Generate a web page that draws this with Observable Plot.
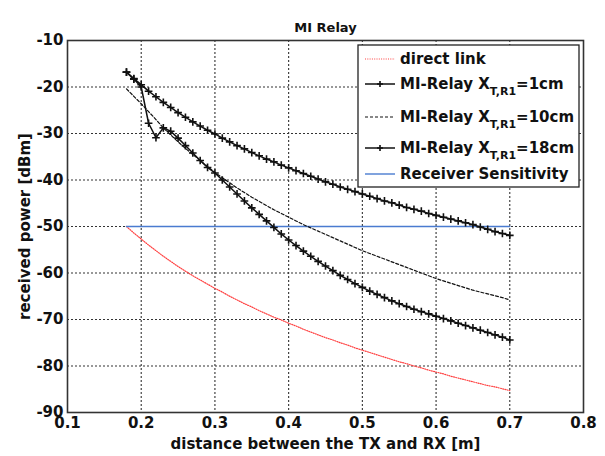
<!DOCTYPE html>
<html><head><meta charset="utf-8">
<script src="https://cdn.jsdelivr.net/npm/d3@7"></script>
<script src="https://cdn.jsdelivr.net/npm/@observablehq/plot@0.6"></script>
<style>
body{margin:0;background:#fff;}
svg{font-family:"DejaVu Sans",sans-serif;}
</style></head><body><div id="chart"></div>
<script>
const titleText = "MI Relay";
const xLabel = "distance between the TX and RX [m]";
const yLabel = "received power [dBm]";
const xTicks = [0.1, 0.2, 0.3, 0.4, 0.5, 0.6, 0.7, 0.8];
const yTicks = [-90, -80, -70, -60, -50, -40, -30, -20, -10];

const distance = [0.18,0.19,0.20,0.21,0.22,0.23,0.24,0.25,0.26,0.27,0.28,0.29,0.30,0.31,0.32,0.33,0.34,0.35,0.36,0.37,0.38,0.39,0.40,0.41,0.42,0.43,0.44,0.45,0.46,0.47,0.48,0.49,0.50,0.51,0.52,0.53,0.54,0.55,0.56,0.57,0.58,0.59,0.60,0.61,0.62,0.63,0.64,0.65,0.66,0.67,0.68,0.69,0.70];

const directLink = [-50.0,-51.4,-52.7,-54.0,-55.2,-56.4,-57.5,-58.6,-59.6,-60.6,-61.5,-62.4,-63.3,-64.1,-65.0,-65.8,-66.6,-67.3,-68.1,-68.8,-69.5,-70.1,-70.8,-71.4,-72.1,-72.7,-73.3,-73.9,-74.4,-75.0,-75.5,-76.1,-76.6,-77.1,-77.6,-78.1,-78.6,-79.1,-79.5,-80.0,-80.4,-80.9,-81.3,-81.7,-82.2,-82.6,-83.0,-83.4,-83.8,-84.2,-84.5,-84.9,-85.3];

const relay1cm = [-16.8,-18.2,-19.5,-20.9,-22.1,-23.3,-24.4,-25.5,-26.5,-27.5,-28.4,-29.3,-30.1,-31.0,-31.8,-32.6,-33.3,-34.1,-34.8,-35.5,-36.1,-36.8,-37.4,-38.0,-38.6,-39.2,-39.8,-40.4,-40.9,-41.5,-42.0,-42.5,-43.0,-43.5,-44.0,-44.5,-44.9,-45.4,-45.9,-46.3,-46.7,-47.2,-47.6,-48.0,-48.4,-48.8,-49.2,-49.6,-50.1,-50.6,-51.1,-51.5,-51.9];

const relay10cm = [-20.4,-22.0,-23.6,-25.3,-27.0,-28.8,-30.3,-31.8,-33.2,-34.5,-35.8,-37.1,-38.4,-39.5,-40.6,-41.7,-42.7,-43.7,-44.6,-45.5,-46.4,-47.2,-48.0,-48.8,-49.6,-50.3,-51.0,-51.7,-52.4,-53.1,-53.8,-54.5,-55.2,-55.8,-56.4,-57.0,-57.6,-58.2,-58.8,-59.4,-60.0,-60.6,-61.2,-61.7,-62.2,-62.7,-63.2,-63.7,-64.1,-64.5,-64.9,-65.3,-65.8];

const relay18cm = [-16.8,-18.3,-20.0,-27.8,-30.9,-28.8,-29.5,-31.0,-32.6,-34.2,-35.8,-37.3,-38.5,-40.0,-41.5,-43.0,-44.5,-46.0,-47.4,-48.8,-50.2,-51.6,-52.9,-54.1,-55.3,-56.4,-57.5,-58.5,-59.5,-60.5,-61.4,-62.3,-63.1,-63.9,-64.6,-65.3,-66.0,-66.6,-67.2,-67.8,-68.3,-68.8,-69.3,-69.8,-70.3,-70.8,-71.3,-71.8,-72.3,-72.8,-73.3,-73.8,-74.4];

const sensitivityX = [0.18, 0.70];
const sensitivityY = [-50, -50];

const legendNames = ["direct link", "MI-Relay X", "MI-Relay X", "MI-Relay X", "Receiver Sensitivity"];
const legendSub = ["", "T,R1", "T,R1", "T,R1", ""];
const legendSuffix = ["", "=1cm", "=10cm", "=18cm", ""];

const rows = (xs, ys) => xs.map((x, i) => ({x, y: ys[i]}));
const dDirect = rows(distance, directLink);
const d1 = rows(distance, relay1cm);
const d10 = rows(distance, relay10cm);
const d18 = rows(distance, relay18cm);
const dSens = rows(sensitivityX, sensitivityY);

const styles = [
  {stroke: "#ff4040", strokeWidth: 1.2, strokeDasharray: "1,1.3", marker: false},
  {stroke: "#111", strokeWidth: 1.5, strokeDasharray: null, marker: true},
  {stroke: "#111", strokeWidth: 1.2, strokeDasharray: "3,2", marker: false},
  {stroke: "#111", strokeWidth: 1.5, strokeDasharray: null, marker: true},
  {stroke: "#4a7bd0", strokeWidth: 1.4, strokeDasharray: null, marker: false}
];

const svg = Plot.plot({
  width: 605, height: 456,
  marginLeft: 67, marginRight: 22, marginTop: 40, marginBottom: 44,
  style: {fontFamily: '"DejaVu Sans", sans-serif', fontWeight: "bold", fontSize: "15px", color: "#111", background: "#fff"},
  x: {domain: [0.1, 0.8]},
  y: {domain: [-90, -10]},
  marks: [
    Plot.gridX(xTicks.slice(1, -1), {stroke: "#333", strokeOpacity: 1, strokeWidth: 1.1, strokeDasharray: "2,2"}),
    Plot.gridY(yTicks.slice(1, -1), {stroke: "#333", strokeOpacity: 1, strokeWidth: 1.1, strokeDasharray: "2,2"}),
    Plot.line(dDirect, {x: "x", y: "y", stroke: styles[0].stroke, strokeWidth: styles[0].strokeWidth, strokeDasharray: styles[0].strokeDasharray}),
    Plot.line(dSens, {x: "x", y: "y", stroke: styles[4].stroke, strokeWidth: styles[4].strokeWidth}),
    Plot.line(d10, {x: "x", y: "y", stroke: styles[2].stroke, strokeWidth: styles[2].strokeWidth, strokeDasharray: styles[2].strokeDasharray}),
    Plot.line(d1, {x: "x", y: "y", stroke: styles[1].stroke, strokeWidth: styles[1].strokeWidth}),
    Plot.dot(d1, {x: "x", y: "y", symbol: "plus", r: 2.6, stroke: "#111", strokeWidth: 1.6}),
    Plot.line(d18, {x: "x", y: "y", stroke: styles[3].stroke, strokeWidth: styles[3].strokeWidth}),
    Plot.dot(d18, {x: "x", y: "y", symbol: "plus", r: 2.6, stroke: "#111", strokeWidth: 1.6}),
    Plot.frame({stroke: "#333", strokeWidth: 1.6}),
    Plot.axisX(xTicks, {tickSize: 0, tickPadding: 5, tickFormat: d => d.toFixed(1), fontSize: 15, fontWeight: "bold",
      label: xLabel, labelAnchor: "center", labelArrow: "none", labelOffset: 36}),
    Plot.axisY(yTicks, {tickSize: 0, tickPadding: 4, tickFormat: d => String(d), fontSize: 15, fontWeight: "bold",
      label: yLabel, labelAnchor: "center", labelArrow: "none", labelOffset: 48}),
    Plot.text([titleText], {frameAnchor: "top", dy: -18, fontSize: 13, fontWeight: "bold", fill: "#111"})
  ]
});

// legend
const g = d3.select(svg).append("g")
  .attr("font-family", '"DejaVu Sans", sans-serif').attr("font-weight", "bold").attr("text-anchor", "start");
g.append("rect").attr("x", 358).attr("y", 45).attr("width", 221).attr("height", 142)
  .attr("fill", "#fff").attr("stroke", "#222").attr("stroke-width", 1.3);
const rowY = [59, 84, 117, 148, 174];
legendNames.forEach((name, i) => {
  const s = styles[i];
  const ln = g.append("line").attr("x1", 365).attr("x2", 395).attr("y1", rowY[i]).attr("y2", rowY[i])
    .attr("stroke", s.stroke).attr("stroke-width", s.strokeWidth);
  if (s.strokeDasharray) ln.attr("stroke-dasharray", s.strokeDasharray);
  if (s.marker) {
    g.append("path").attr("d", `M377,${rowY[i]}h6M380,${rowY[i]-3}v6`).attr("stroke", "#111").attr("stroke-width", 1.6);
  }
  const t = g.append("text").attr("x", 400).attr("y", rowY[i]).attr("dy", "0.36em")
    .attr("font-size", 15).attr("fill", "#111").attr("text-anchor", "start");
  t.append("tspan").text(name);
  if (legendSub[i]) {
    t.append("tspan").attr("font-size", 11).attr("dy", 6).text(legendSub[i]);
    t.append("tspan").attr("font-size", 15).attr("dy", -6).text(legendSuffix[i]);
  }
});

document.getElementById("chart").appendChild(svg);
</script>
</body></html>
